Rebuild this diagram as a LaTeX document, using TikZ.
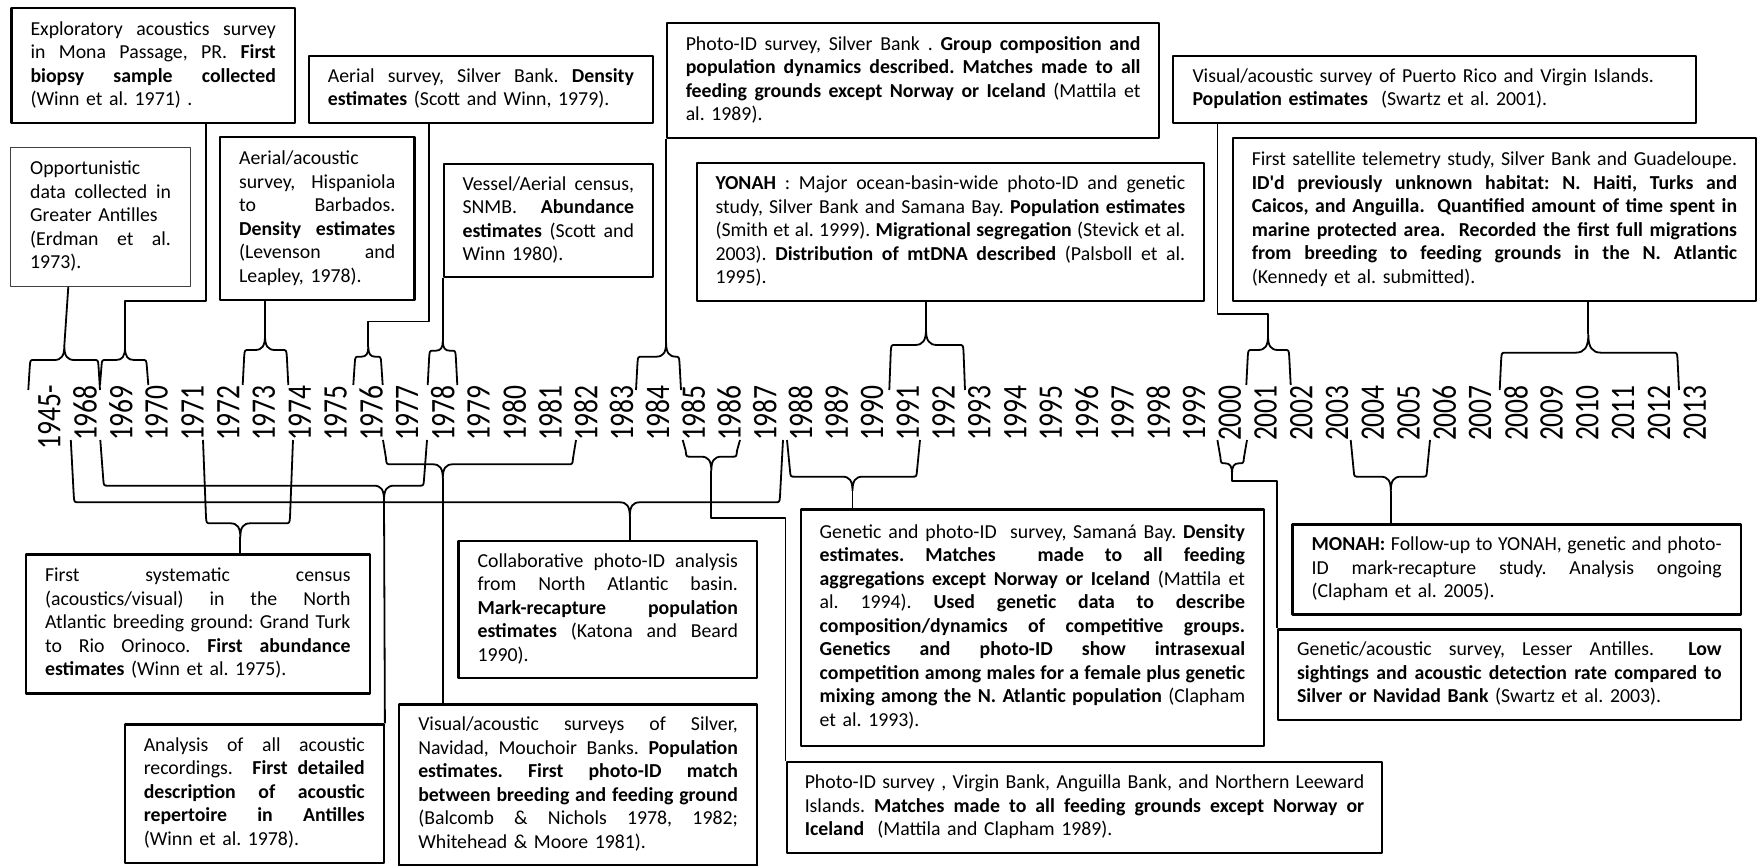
\documentclass[tikz,border=0pt]{standalone}
\usepackage{fontspec}
\usepackage{graphicx}
\setmainfont{Carlito}
\usetikzlibrary{calc}
\frenchspacing
\newlength\bxw
\newcommand\jl[1]{\leavevmode\hbox to \bxw{\spaceskip=0.23em plus 1fil minus 0.05em\xspaceskip=\spaceskip\relax #1}}
\newcommand\topbr[7]{%
  \draw[brc] (#2,#6) -- ({#2+1.5},{#5+6}) .. controls ({#2+2},#5) .. ({#2+6},#5)
    -- ({#3-#7},#5) .. controls ({#3-0.3*#7},#5) and (#3,{#5-0.4*#7}) .. (#3,{#5-1.4*#7})
    .. controls (#3,{#5-0.4*#7}) and ({#3+0.3*#7},#5) .. ({#3+#7},#5)
    -- ({#4-6},#5) .. controls ({#4-2},#5) .. ({#4-1.5},{#5+6}) -- (#4,#6);
  \coordinate (#1) at (#3,{#5-1.4*#7});}
\newcommand\botbr[7]{%
  \draw[brc] (#2,#6) -- ({#2+3},{#5-6}) .. controls ({#2+3.5},#5) .. ({#2+8},#5)
    -- ({#3-#7},#5) .. controls ({#3-0.3*#7},#5) and (#3,{#5+0.4*#7}) .. (#3,{#5+1.4*#7})
    .. controls (#3,{#5+0.4*#7}) and ({#3+0.3*#7},#5) .. ({#3+#7},#5)
    -- ({#4-8},#5) .. controls ({#4-3.5},#5) .. ({#4-3},{#5-6}) -- (#4,#6);
  \coordinate (#1) at (#3,{#5+1.4*#7});}
\newcommand\bx[8][]{%
  \global\bxw=#7\relax
  \node[box,#1,minimum width={#5-#3},minimum height={#6-#4},text width=#7] (#2) at (#3,#4) {#8};}
\begin{document}
\begin{tikzpicture}[x=1pt,y=-1pt,line join=round,
  box/.style={draw,line width=2.2pt,inner xsep=0pt,inner ysep=0pt,align=left,
    anchor=north west,font=\fontsize{19.8}{23.5}\selectfont\frenchspacing},
  brc/.style={line width=1.8pt},
  conn/.style={line width=1.8pt},
  yl/.style={rotate=90,anchor=east,inner sep=0pt,font=\fontsize{27.5}{30}\selectfont}]
\useasboundingbox (0,0) rectangle (1759,866);

% ---------- year labels ----------
\node[yl] (y1945) at (49.3,385) {\scalebox{1}[1.25]{1945-}};
\foreach \yr [count=\k] in {1968,...,2013}
  \node[yl] (y\yr) at ({49.3+35.77*\k},385) {\scalebox{1}[1.25]{\yr}};

% ---------- upper boxes ----------
\bx{A}{10.3}{7.3}{293.9}{121.7}{245.3pt}{\jl{\strut Exploratory acoustics survey}\\
 \jl{in Mona Passage, PR. \textbf{First}}\\ \jl{\textbf{biopsy sample collected}}\\
 (Winn et al. 1971) .\strut}
\bx[line width=1.1pt,draw=black!75]{B}{10.3}{147}{189.8}{285.7}{140.8pt}{\strut Opportunistic\\
 \jl{data collected in}\\ Greater Antilles\\ \jl{(Erdman et al.}\\ 1973).\strut}
\bx{C}{308}{55}{651.6}{121.7}{306pt}{\jl{\strut Aerial survey, Silver Bank. \textbf{Density}}\\
 \textbf{estimates} (Scott and Winn, 1979).\strut}
\bx{D}{218.9}{136}{413.3}{299}{156.2pt}{\strut Aerial/acoustic\\ \jl{survey, Hispaniola}\\
 \jl{to Barbados.}\\ \jl{\textbf{Density estimates}}\\ \jl{(Levenson and}\\ Leapley, 1978).\strut}
\bx{E}{442.8}{163}{651.6}{276}{171.4pt}{\jl{\strut Vessel/Aerial census,}\\ \jl{SNMB. \textbf{Abundance}}\\
 \jl{\textbf{estimates} (Scott and}\\ Winn 1980).\strut}
\bx{F}{666.1}{22.3}{1157.9}{136.7}{454.7pt}{\jl{\strut Photo-ID survey, Silver Bank . \textbf{Group composition and}}\\
 \jl{\textbf{population dynamics described. Matches made to all}}\\
 \jl{\textbf{feeding grounds except Norway or Iceland} (Mattila et}\\ al. 1989).\strut}
\bx{G}{695.6}{162.3}{1202.9}{300}{469.7pt}{\jl{\strut\textbf{YONAH} : Major ocean-basin-wide photo-ID and genetic}\\
 \jl{study, Silver Bank and Samana Bay. \textbf{Population estimates}}\\
 \jl{(Smith et al. 1999). \textbf{Migrational segregation} (Stevick et al.}\\
 \jl{2003). \textbf{Distribution of mtDNA described} (Palsboll et al.}\\ 1995).\strut}
\bx{H}{1172.2}{55}{1694.6}{121.7}{484pt}{\strut Visual/acoustic survey of Puerto Rico and Virgin Islands.\\
 \textbf{Population estimates}\ \ (Swartz et al. 2001).\strut}
\bx{I}{1231.6}{137.3}{1755}{300}{485.3pt}{\jl{\strut First satellite telemetry study, Silver Bank and Guadeloupe.}\\
 \jl{\textbf{ID\textquotesingle d previously unknown habitat: N. Haiti, Turks and}}\\
 \jl{\textbf{Caicos, and Anguilla.\ \ Quantified amount of time spent in}}\\
 \jl{\textbf{marine protected area.\ \ Recorded the first full migrations}}\\
 \jl{\textbf{from breeding to feeding grounds in the N. Atlantic}}\\
 (Kennedy et al. submitted).\strut}

% ---------- lower boxes ----------
\bx{FS}{24.9}{553.3}{368.5}{692.3}{305.4pt}{\jl{\strut First systematic census}\\
 \jl{(acoustics/visual) in the North}\\ \jl{Atlantic breeding ground: Grand Turk}\\
 \jl{to Rio Orinoco. \textbf{First abundance}}\\ \textbf{estimates} (Winn et al. 1975).\strut}
\bx{AN}{123.6}{723.3}{382.7}{861.7}{221pt}{\jl{\strut Analysis of all acoustic}\\
 \jl{recordings.\ \ \textbf{First detailed}}\\ \jl{\textbf{description of acoustic}}\\
 \jl{\textbf{repertoire in Antilles}}\\ (Winn et al. 1978).\strut}
\bx{CO}{457.3}{540}{756}{676.7}{260.4pt}{\jl{\strut Collaborative photo-ID analysis}\\
 \jl{from North Atlantic basin.}\\ \jl{\textbf{Mark-recapture population}}\\
 \jl{\textbf{estimates} (Katona and Beard}\\ 1990).\strut}
\bx{VS}{398}{703.3}{756}{864.3}{319.7pt}{\jl{\strut Visual/acoustic surveys of Silver,}\\
 \jl{Navidad, Mouchoir Banks. \textbf{Population}}\\ \jl{\textbf{estimates. First photo-ID match}}\\
 \jl{\textbf{between breeding and feeding ground}}\\ \jl{(Balcomb \& Nichols 1978, 1982;}\\
 Whitehead \& Moore 1981).\strut}
\bx{GE}{800}{508.3}{1262.6}{745}{425.4pt}{\jl{\strut Genetic and photo-ID\ \ survey, Samaná Bay. \textbf{Density}}\\
 \jl{\textbf{estimates. Matches\ \ made to all feeding}}\\
 \jl{\textbf{aggregations except Norway or Iceland} (Mattila et}\\
 \jl{al. 1994). \textbf{Used genetic data to describe}}\\
 \jl{\textbf{composition/dynamics of competitive groups.}}\\
 \jl{\textbf{Genetics and photo-ID show intrasexual}}\\
 \jl{\textbf{competition among males for a female plus genetic}}\\
 \jl{\textbf{mixing among the N. Atlantic population} (Clapham}\\
 et al. 1993).\strut}
\bx{VB}{785.5}{760.7}{1381.2}{851.7}{559.4pt}{\jl{\strut Photo-ID survey , Virgin Bank, Anguilla Bank, and Northern Leeward}\\
 \jl{Islands. \textbf{Matches made to all feeding grounds except Norway or}}\\
 \textbf{Iceland}\ \ (Mattila and Clapham 1989).\strut}
\bx{MO}{1291.3}{523.3}{1739.8}{613.3}{410pt}{\jl{\strut\textbf{MONAH:} Follow-up to YONAH, genetic and photo-}\\
 \jl{ID mark-recapture study. Analysis ongoing}\\ (Clapham et al. 2005).\strut}
\bx{GA}{1276.7}{628.3}{1739.8}{719}{424.7pt}{\jl{\strut Genetic/acoustic survey, Lesser Antilles.\ \ \textbf{Low}}\\
 \jl{\textbf{sightings and acoustic detection rate compared to}}\\
 \textbf{Silver or Navidad Bank} (Swartz et al. 2003).\strut}

% ---------- upper braces ----------
\topbr{t1}{28.3}{64.3}{100}{360}{390}{10}
\topbr{t2}{100}{125}{148.3}{360}{385}{9}
\topbr{t3}{242.7}{265}{288.3}{350}{385}{10}
\topbr{t4}{353.3}{368.3}{382.7}{356.7}{385}{7}
\topbr{t5}{427.7}{442.8}{457.3}{350.7}{385}{7}
\topbr{t6}{636}{666.1}{681}{356.7}{390}{10}
\topbr{t7}{889.3}{926}{965}{345}{390}{11}
\topbr{t8}{1246.3}{1268}{1290.7}{350}{385}{10}
\topbr{t9}{1499.7}{1588.3}{1679}{352.7}{390}{13}

% ---------- lower braces ----------
\botbr{b1}{70.8}{629.8}{783}{502.3}{440}{10}
\botbr{b2}{100.3}{384}{427}{485.7}{440}{10}
\botbr{b3}{383}{442.8}{576}{464.3}{440}{10}
\botbr{b4}{203}{240.3}{293}{523.3}{440}{10}
\botbr{b5}{682.7}{711.3}{740}{456.7}{440}{10}
\botbr{b6}{787}{852.5}{920}{476.7}{440}{10}
\botbr{b7}{1217.4}{1232}{1247}{463.3}{440}{7}
\botbr{b8}{1350.7}{1390.8}{1430}{476.7}{440}{10}

% ---------- connectors (upper) ----------
\draw[conn] ([xshift=-32.3pt]B.south) -- (t1);
\draw[conn] ([xshift=52.6pt]A.south) -- ++(0,177.3) -| (t2);
\draw[conn] (D.south -| t3) -- (t3);
\draw[conn] ([xshift=-51.9pt]C.south) -- ++(0,197.6) -| (t4);
\draw[conn] (E.south west) -- (t5);
\draw[conn] (F.south west) -- (t6);
\draw[conn] (G.south -| t7) -- (t7);
\draw[conn] ([xshift=45.2pt]H.south west) -- ++(0,190) -| (t8);
\draw[conn] (I.south -| t9) -- (t9);

% ---------- connectors (lower) ----------
\draw[conn] (b1) -- (b1 |- CO.north);
\draw[conn] (b2) -- (AN.north east);
\draw[conn] (b3) -- (b3 |- VS.north);
\draw[conn] (b4) -- (b4 |- FS.north);
\draw[conn] (b5) -- ++(0,47.6) -| (VB.north west);
\draw[conn] (b6) -- (b6 |- GE.north);
\draw[conn] (b7) -- ++(0,8) -| (GA.north west);
\draw[conn] (b8) -- (b8 |- MO.north);
\end{tikzpicture}
\end{document}
